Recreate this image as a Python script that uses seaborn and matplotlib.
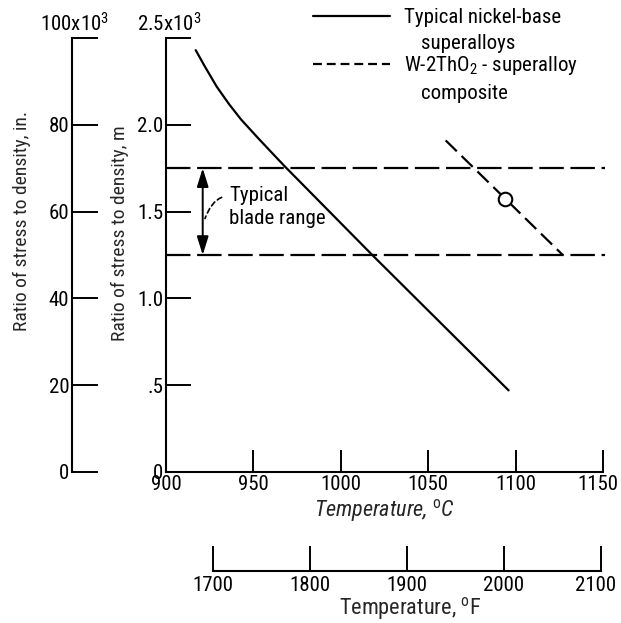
import matplotlib
matplotlib.use("Agg")
import matplotlib.pyplot as plt
from matplotlib.lines import Line2D
from matplotlib.transforms import ScaledTranslation
import pandas as pd
import seaborn as sns

# Stress-to-density ratio (10^3 m) against temperature (deg C)
nickel_temp_c = [917, 922, 929, 936, 943, 953, 960, 968, 1018, 1096]
nickel_ratio = [2.43, 2.34, 2.22, 2.12, 2.03, 1.92, 1.845, 1.76, 1.25, 0.47]

composite_temp_c = [1060, 1127]
composite_ratio = [1.91, 1.25]
composite_point_temp_c = [1094]
composite_point_ratio = [1.57]

# Typical turbine blade requirement band
blade_range = [1.25, 1.75]
blade_span_c = [900, 1151]
arrow_temp_c = 921

c_ticks = [900, 950, 1000, 1050, 1100, 1150]
m_ticks = [0, 0.5, 1.0, 1.5, 2.0, 2.5]
m_tick_labels = ["0", ".5", "1.0", "1.5", "2.0", ""]
in_ticks = [0, 20, 40, 60, 80, 100]
in_tick_labels = ["0", "20", "40", "60", "80", ""]
f_ticks = [1700, 1800, 1900, 2000, 2100]

sns.set_style("ticks")
FONT = ["Liberation Sans Narrow", "Roboto Condensed", "Roboto", "DejaVu Sans"]
plt.rcParams["font.family"] = FONT
plt.rcParams["mathtext.fontset"] = "custom"
plt.rcParams["mathtext.rm"] = "Roboto Condensed"
plt.rcParams["mathtext.it"] = "Roboto Condensed:italic"
plt.rcParams["axes.edgecolor"] = "black"
plt.rcParams["text.color"] = "black"
plt.rcParams["xtick.color"] = "black"
plt.rcParams["ytick.color"] = "black"

FS = 15        # annotations and legend
TFS = 15       # tick labels
XFS = 16       # temperature labels
YFS = 14       # ratio labels
LW = 1.6

fig = plt.figure(figsize=(6.21, 6.23), dpi=100)
ax = fig.add_axes([0.2673, 0.2424, 0.7037, 0.6966])

nickel = pd.DataFrame({"temp": nickel_temp_c, "ratio": nickel_ratio})
composite = pd.DataFrame({"temp": composite_temp_c, "ratio": composite_ratio})

sns.lineplot(data=nickel, x="temp", y="ratio", sort=False, color="black",
             lw=LW, ax=ax)
sns.lineplot(data=composite, x="temp", y="ratio", sort=False, color="black",
             lw=LW, linestyle=(0, (7, 3)), ax=ax)
for level in blade_range:
    sns.lineplot(x=blade_span_c, y=[level, level], color="black", lw=LW,
                 linestyle=(0, (11, 3)), clip_on=False, ax=ax)
sns.scatterplot(x=composite_point_temp_c, y=composite_point_ratio, s=95,
                facecolor="white", edgecolor="black", linewidth=1.5,
                zorder=5, ax=ax)

# Blade range arrow and its label
ax.annotate("", xy=(arrow_temp_c, blade_range[0]),
            xytext=(arrow_temp_c, blade_range[1]),
            arrowprops=dict(arrowstyle="<|-|>,head_length=0.8,head_width=0.25",
                            color="black", lw=1.4,
                            mutation_scale=14, shrinkA=0, shrinkB=0))
ax.annotate("Typical\nblade range", xy=(arrow_temp_c + 1.3, 1.46),
            xytext=(936, 1.525), ha="left", va="center", fontsize=FS,
            linespacing=1.25,
            arrowprops=dict(arrowstyle="-", color="black", lw=1.2,
                            linestyle=(0, (3, 2)), relpos=(0, 0.77),
                            shrinkA=3, shrinkB=0,
                            connectionstyle="angle3,angleA=0,angleB=70"))

ax.set_xlim(900, 1150)
ax.set_ylim(0, 2.5)
ax.set_xticks(c_ticks)
ax.set_yticks(m_ticks, labels=m_tick_labels)
ax.tick_params(axis="y", direction="in", length=18, width=1.4, pad=2,
               labelsize=TFS)
ax.tick_params(axis="x", direction="in", length=16, width=1.4, pad=2,
               labelsize=TFS)
for side in ("top", "right"):
    ax.spines[side].set_visible(False)
for side in ("left", "bottom"):
    ax.spines[side].set_linewidth(1.5)

ax.set_xlabel("Temperature, $^{\\mathrm{o}}$C", fontsize=XFS, style="italic",
              labelpad=2)
ax.set_ylabel("Ratio of stress to density, m", fontsize=YFS, labelpad=6)
ax.yaxis.label.set_y(0.551)
ax.annotate("2.5x10$^3$", xy=(0, 1), xycoords="axes fraction",
            xytext=(2, 2), textcoords="offset points", ha="center",
            va="bottom", fontsize=TFS)

# Same ratio in inches
sec_y = ax.secondary_yaxis(-0.2151, functions=(lambda v: v * 40,
                                               lambda v: v / 40))
sec_y.set_yticks(in_ticks, labels=in_tick_labels)
sec_y.tick_params(direction="in", length=19, width=1.4, pad=2, labelsize=TFS)
sec_y.spines["left"].set_linewidth(1.5)
sec_y.set_ylabel("Ratio of stress to density, in.", fontsize=YFS, labelpad=13)
sec_y.yaxis.label.set_y(0.578)
ax.annotate("100x10$^3$", xy=(-0.2151, 1), xycoords="axes fraction",
            xytext=(2, 2), textcoords="offset points", ha="center",
            va="bottom", fontsize=TFS)

# Temperature in deg F
sec_x = ax.secondary_xaxis(-0.228, functions=(lambda c: c * 9 / 5 + 32,
                                              lambda f: (f - 32) * 5 / 9))
sec_x.set_xticks(f_ticks)
sec_x.tick_params(direction="in", length=18, width=1.4, pad=4, labelsize=TFS)
sec_x.spines["bottom"].set_linewidth(1.5)
sec_x.spines["bottom"].set_bounds(f_ticks[0], f_ticks[-1])
sec_x.set_xlabel("Temperature, $^{\\mathrm{o}}$F", fontsize=XFS, labelpad=-0.5)
sec_x.xaxis.label.set_x(0.558)

# Pull the right-most tick labels slightly inward
nudge = ScaledTranslation(-4 / 72, 0, fig.dpi_scale_trans)
for lbl in (ax.get_xticklabels()[-1], sec_x.get_xticklabels()[-1]):
    lbl.set_transform(lbl.get_transform() + nudge)

# Legend
handles = [Line2D([], [], color="black", lw=LW),
           Line2D([], [], color="black", lw=LW, linestyle=(0, (4, 2.2)))]
leg = ax.legend(handles, ["Typical nickel-base", "W-2ThO$_2$ - superalloy"],
                loc="upper left", bbox_to_anchor=(313 / 621, 1 - 8 / 623),
                bbox_transform=fig.transFigure, frameon=False, fontsize=FS,
                handlelength=3.7, handletextpad=0.65, labelspacing=1.3,
                borderpad=0, borderaxespad=0)
for txt, extra in zip(leg.get_texts(), ["superalloys", "composite"]):
    ax.annotate(extra, xy=(0, 0), xycoords=txt, xytext=(12.5, -15.5),
                textcoords="offset points", ha="left", va="baseline",
                fontsize=FS, zorder=10, annotation_clip=False)

fig.savefig("out.png", dpi=100)
